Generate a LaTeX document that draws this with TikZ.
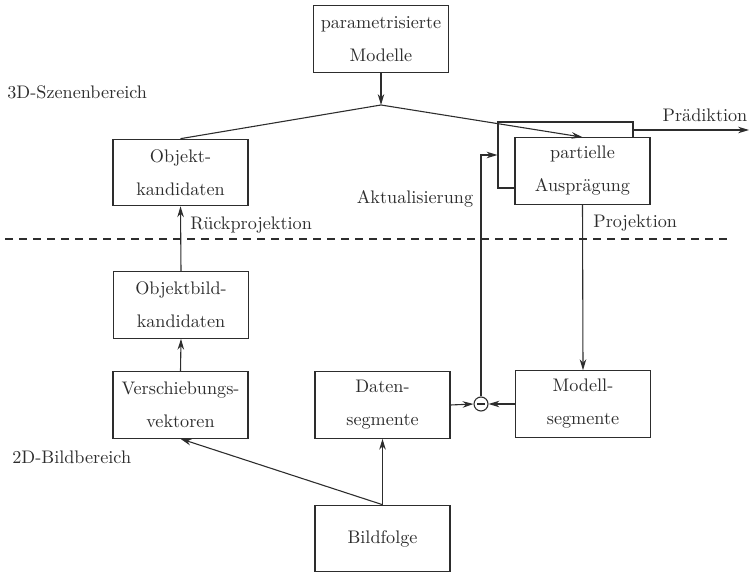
\documentclass[tikz,border=0pt]{standalone}
\usetikzlibrary{arrows.meta,calc}
\definecolor{ink}{RGB}{45,45,45}
\begin{document}
\begin{tikzpicture}[x=0.55pt,y=-0.55pt,
  every node/.style={text=ink},
  txt/.style={font=\fontsize{10}{18.2}\selectfont},
  box/.style={draw=ink,line width=0.6pt,fill=white,minimum width=74.25pt,
    minimum height=36.6pt,inner sep=0pt,align=center,
    font=\fontsize{10}{18.2}\selectfont},
  link/.style={draw=ink,line width=0.6pt},
  arr/.style={link,-{Stealth[length=6pt,width=3.6pt]}},
  sep/.style={draw=ink,line width=0.6pt,dash pattern=on 4.4pt off 3.3pt}]
\useasboundingbox (0,0) rectangle (755,573);

% boxes
\node[box] (pm) at (381,39) {parametrisierte\\Modelle};
\node[box] (ok) at (180.5,172.5) {Objekt-\\kandidaten};
\node[box,minimum height=36.3pt] (back) at (565.5,155) {};
\node[box] (front) at (582.5,171) {partielle\\Ausprägung};
\node[box] (obk) at (181,305) {Objektbild-\\kandidaten};
\node[box] (vv) at (180.5,405) {Verschiebungs-\\vektoren};
\node[box] (ds) at (382.5,405) {Daten-\\segmente};
\node[box] (ms) at (583,404) {Modell-\\segmente};
\node[box] (bf) at (382.5,538.5) {Bildfolge};
\node[draw=ink,line width=0.6pt,circle,minimum size=7.7pt,inner sep=0pt] (cmp) at (481,404) {};
\draw[link] ($(cmp.center)+(-4,0)$) -- ($(cmp.center)+(4,0)$);

% region labels and separator
\node[txt,anchor=west,inner sep=0pt] (l3d) at (7,92) {3D-Szenenbereich};
\node[txt,anchor=west,inner sep=0pt] (l2d) at (12,457) {2D-Bildbereich};
\coordinate (sepL) at (5,239);
\coordinate (sepR) at (727,239);
\draw[sep] (sepL) -- (sepR);

% model branch
\coordinate (J) at (381,105);
\draw[arr] (pm.south) -- (J);
\draw[link] (J) -- (ok.north);
\draw[arr] (J) -- (front.north);
\coordinate (predS) at (633,130);
\coordinate (predE) at (749,130);
\draw[arr] (predS) -- (predE);
\node[txt,inner sep=0pt] (lpred) at (705,115) {Prädiktion};

% projection and comparison
\draw[arr] (front.south) -- (ms.north);
\node[txt,anchor=west,inner sep=0pt] (lproj) at (593,223) {Projektion};
\draw[arr] (ds.east) -- (cmp.west);
\draw[arr] (ms.west) -- (cmp.east);
\draw[arr] (cmp.north) |- (back.west);
\node[txt,inner sep=0pt] (lakt) at (415,199) {Aktualisierung};

% image branch
\draw[arr] (bf.north) -- (ds.south);
\draw[arr] (bf.north) -- (vv.south);
\draw[arr] (vv.north) -- (obk.south);
\draw[arr] (obk.north) -- (ok.south);
\node[txt,anchor=west,inner sep=0pt] (lrueck) at (190,225) {Rückprojektion};
\end{tikzpicture}
\end{document}
